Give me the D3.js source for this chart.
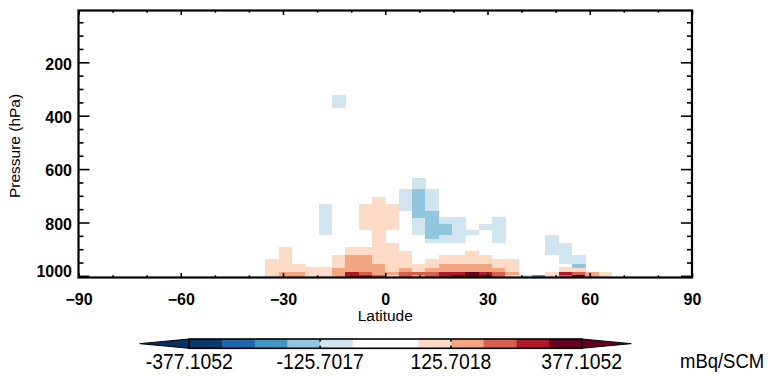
<!DOCTYPE html>
<html>
<head>
<meta charset="utf-8">
<script src="https://cdn.jsdelivr.net/npm/d3@7/dist/d3.min.js"></script>
<style>
  html, body { margin: 0; padding: 0; background: #ffffff; }
  svg { display: block; font-family: "Liberation Sans", Arial, Helvetica, sans-serif; }
</style>
</head>
<body>
<svg id="chart" width="774" height="379"></svg>
<script>
// ---- grid and data ----------------------------------------------------
// 46 equal latitude bands between -90 and 90
const nLat = 46;
const latTicks = [-90, -60, -30, 0, 30, 60, 90];
const pressureTicks = [200, 400, 600, 800, 1000];

// model layer edges (hPa), from the surface upward
const pressureEdges = [1010, 996.6, 984.3, 967.8, 953.6, 937.8, 921.7, 906.7, 891.8,
  876.8, 861.8, 846.8, 828.1, 805.6, 780.5, 755.8, 730.7, 703.4, 674.5, 633.3,
  601, 554.5, 508, 461.5, 415, 368.5, 322.5];

// contour levels of the colour bar (mBq/SCM)
const levels = [-377.1052, -314.2543, -251.4035, -188.5526, -125.7017, -62.8509, 0,
  62.8509, 125.7018, 188.5526, 251.4035, 314.2543, 377.1052];
const levelColors = ["#0a3a6c", "#2166ac", "#4393c3", "#92c5de", "#d1e5f0", "#ffffff",
  "#ffffff", "#fddbc7", "#f4a582", "#d6604d", "#b2182b", "#67001f"];
const lowColor = "#053061";
const highColor = "#67001f";
const barLabelIndex = [0, 4, 8, 12];
const barLabels = ["-377.1052", "-125.7017", "125.7018", "377.1052"];
const unitLabel = "mBq/SCM";

// difference field: [latitude band, first layer, last layer, value]
const cells = [
  [14, 0, 4, 94],
  [15, 0, 1, 157], [15, 2, 7, 94],
  [16, 0, 1, 157], [16, 2, 3, 94],
  [17, 0, 2, 94],
  [18, 0, 2, 94], [18, 11, 15, -94],
  [19, 0, 2, 157], [19, 3, 5, 94], [19, 25, 25, -94],
  [20, 0, 1, 283], [20, 2, 5, 157], [20, 6, 7, 94],
  [21, 0, 0, 283], [21, 1, 1, 220], [21, 2, 5, 157], [21, 6, 7, 94], [21, 12, 15, 94],
  [22, 0, 0, 220], [22, 1, 3, 157], [22, 4, 16, 94],
  [23, 0, 0, 94], [23, 1, 1, 157], [23, 2, 8, 94], [23, 12, 15, 94],
  [24, 0, 1, 220], [24, 2, 2, 157], [24, 3, 6, 94], [24, 15, 17, -94],
  [25, 0, 0, 157], [25, 1, 1, 220], [25, 2, 3, 94], [25, 11, 13, -94], [25, 14, 17, -157], [25, 18, 18, -94],
  [26, 0, 1, 220], [26, 2, 2, 157], [26, 3, 4, 94], [26, 9, 9, -94], [26, 10, 14, -157], [26, 15, 17, -94],
  [27, 0, 1, 283], [27, 2, 3, 157], [27, 4, 5, 94], [27, 9, 10, -94], [27, 11, 12, -157], [27, 13, 13, -94],
  [28, 0, 0, 346], [28, 1, 1, 283], [28, 2, 3, 157], [28, 4, 5, 94], [28, 9, 13, -94],
  [29, 0, 1, 346], [29, 2, 3, 157], [29, 4, 6, 94], [29, 11, 11, -94],
  [30, 0, 0, 346], [30, 1, 1, 283], [30, 2, 3, 157], [30, 4, 5, 94], [30, 12, 12, -94],
  [31, 0, 1, 220], [31, 2, 2, 157], [31, 3, 4, 94], [31, 9, 13, -94],
  [32, 0, 0, 94], [32, 1, 1, 157], [32, 2, 4, 94],
  [33, 0, 0, -94],
  [34, 0, 0, -220],
  [35, 0, 0, -94], [35, 1, 1, 94], [35, 6, 10, -94],
  [36, 0, 0, 220], [36, 1, 1, 283], [36, 2, 2, 94], [36, 4, 8, -94],
  [37, 0, 0, 346], [37, 1, 1, 220], [37, 2, 2, 94], [37, 3, 3, -157], [37, 4, 5, -94],
  [38, 0, 1, 157],
  [39, 0, 1, 94]
];

// ---- layout --------------------------------------------------------------
const svg = d3.select("#chart");
const x = d3.scaleLinear().domain([-90, 90]).range([78.5, 692]);
const y = d3.scaleLinear().domain([6, 1006]).range([10.5, 277.5]);
const color = d3.scaleThreshold().domain(levels.slice(1, -1)).range(levelColors);
const bandWidth = 180 / nLat;

svg.append("defs").append("clipPath").attr("id", "plotClip")
  .append("rect")
  .attr("x", x(-90)).attr("y", y(6))
  .attr("width", x(90) - x(-90)).attr("height", y(1006) - y(6));

// cells
const field = svg.append("g").attr("clip-path", "url(#plotClip)");
const boxes = [];
cells.forEach(([k, j0, j1, v]) => {
  for (let j = j0; j <= j1; j++) boxes.push({ k, j, v });
});
field.selectAll("rect").data(boxes).join("rect")
  .attr("x", d => x(-90 + d.k * bandWidth))
  .attr("width", d => x(-90 + (d.k + 1) * bandWidth) - x(-90 + d.k * bandWidth) + 0.3)
  .attr("y", d => y(pressureEdges[d.j + 1]))
  .attr("height", d => y(pressureEdges[d.j]) - y(pressureEdges[d.j + 1]) + 0.3)
  .attr("fill", d => color(d.v))
  .attr("shape-rendering", "crispEdges");

// ---- axes ------------------------------------------------------------------
const tickFont = g => g.selectAll("text")
  .attr("font-size", 16).attr("font-weight", "bold")
  .attr("font-family", "'Liberation Sans', Arial, Helvetica, sans-serif")
  .attr("fill", "#000");
const clean = g => { g.select(".domain").remove(); g.selectAll("line").attr("stroke", "#000").attr("stroke-width", 1.6); };

const xMinor = d3.range(-80, 90, 10).filter(v => v % 30 !== 0);
const yMinor = d3.range(50, 1001, 50).filter(v => v % 200 !== 0);

svg.append("g").attr("transform", `translate(0,${y(1006)})`)
  .call(d3.axisBottom(x).tickValues(latTicks).tickSize(-4.5).tickPadding(16).tickFormat(d3.format("d")))
  .call(clean).call(tickFont);
svg.append("g").attr("transform", `translate(0,${y(1006)})`)
  .call(d3.axisBottom(x).tickValues(xMinor).tickSize(-2.2).tickFormat(""))
  .call(clean);
svg.append("g").attr("transform", `translate(0,${y(6)})`)
  .call(d3.axisTop(x).tickValues(latTicks).tickSize(-4.5).tickFormat(""))
  .call(clean);
svg.append("g").attr("transform", `translate(0,${y(6)})`)
  .call(d3.axisTop(x).tickValues(xMinor).tickSize(-2.2).tickFormat(""))
  .call(clean);

svg.append("g").attr("transform", `translate(${x(-90)},0)`)
  .call(d3.axisLeft(y).tickValues(pressureTicks).tickSize(-11).tickPadding(6.5).tickFormat(d3.format("d")))
  .call(clean).call(tickFont)
  .call(g => g.selectAll("text").attr("dy", d => d === 1000 ? "0.05em" : "0.42em"));
svg.append("g").attr("transform", `translate(${x(-90)},0)`)
  .call(d3.axisLeft(y).tickValues(yMinor).tickSize(-5).tickFormat(""))
  .call(clean);
svg.append("g").attr("transform", `translate(${x(90)},0)`)
  .call(d3.axisRight(y).tickValues(pressureTicks).tickSize(-11).tickFormat(""))
  .call(clean);
svg.append("g").attr("transform", `translate(${x(90)},0)`)
  .call(d3.axisRight(y).tickValues(yMinor).tickSize(-5).tickFormat(""))
  .call(clean);

// frame
svg.append("rect")
  .attr("x", x(-90)).attr("y", y(6))
  .attr("width", x(90) - x(-90)).attr("height", y(1006) - y(6))
  .attr("fill", "none").attr("stroke", "#000").attr("stroke-width", 2.2);

// axis titles
svg.append("text")
  .attr("x", (x(-90) + x(90)) / 2).attr("y", 321)
  .attr("text-anchor", "middle").attr("font-size", 15.5)
  .text("Latitude");
svg.append("text")
  .attr("transform", `translate(20,146) rotate(-90)`)
  .attr("text-anchor", "middle").attr("font-size", 15.5)
  .text("Pressure (hPa)");

// ---- colour bar --------------------------------------------------------------
const cb = svg.append("g");
const cbX = d3.scaleLinear().domain([levels[0], levels[levels.length - 1]]).range([189.3, 581.7]);
const cbTop = 339, cbBot = 348.3, cbMid = (cbTop + cbBot) / 2;
const bins = d3.pairs(levels).map(([a, b], i) => ({ a, b, c: levelColors[i] }));
cb.selectAll("rect.bin").data(bins).join("rect").attr("class", "bin")
  .attr("x", d => cbX(d.a)).attr("width", d => cbX(d.b) - cbX(d.a) + 0.4)
  .attr("y", cbTop).attr("height", cbBot - cbTop)
  .attr("fill", d => d.c);
// out-of-range arrows
const lo = cbX(levels[0]), hi = cbX(levels[levels.length - 1]);
const arrowLen = 49.5;
cb.append("path")
  .attr("d", `M${lo},${cbTop}L${lo - arrowLen},${cbMid}L${lo},${cbBot}Z`)
  .attr("fill", lowColor).attr("stroke", "#000").attr("stroke-width", 1);
cb.append("path")
  .attr("d", `M${hi},${cbTop}L${hi + arrowLen},${cbMid}L${hi},${cbBot}Z`)
  .attr("fill", highColor).attr("stroke", "#000").attr("stroke-width", 1);
cb.append("rect")
  .attr("x", lo).attr("y", cbTop).attr("width", hi - lo).attr("height", cbBot - cbTop)
  .attr("fill", "none").attr("stroke", "#000").attr("stroke-width", 1.6);
// tick marks at the labelled levels
barLabelIndex.forEach(i => {
  const px = cbX(levels[i]);
  cb.append("line").attr("x1", px).attr("x2", px).attr("y1", cbTop).attr("y2", cbTop + 2.5)
    .attr("stroke", "#000").attr("stroke-width", 1.6);
  cb.append("line").attr("x1", px).attr("x2", px).attr("y1", cbBot - 2.5).attr("y2", cbBot)
    .attr("stroke", "#000").attr("stroke-width", 1.6);
});
// condensed labels under the bar
cb.selectAll("text.lab").data(barLabelIndex).join("text").attr("class", "lab")
  .attr("transform", i => `translate(${cbX(levels[i])},368.5) scale(0.9,1)`)
  .attr("text-anchor", "middle").attr("font-size", 21.5)
  .text((i, n) => barLabels[n]);
cb.append("text")
  .attr("transform", "translate(680,367.5) scale(0.88,1)")
  .attr("font-size", 21)
  .text(unitLabel);
</script>
</body>
</html>
